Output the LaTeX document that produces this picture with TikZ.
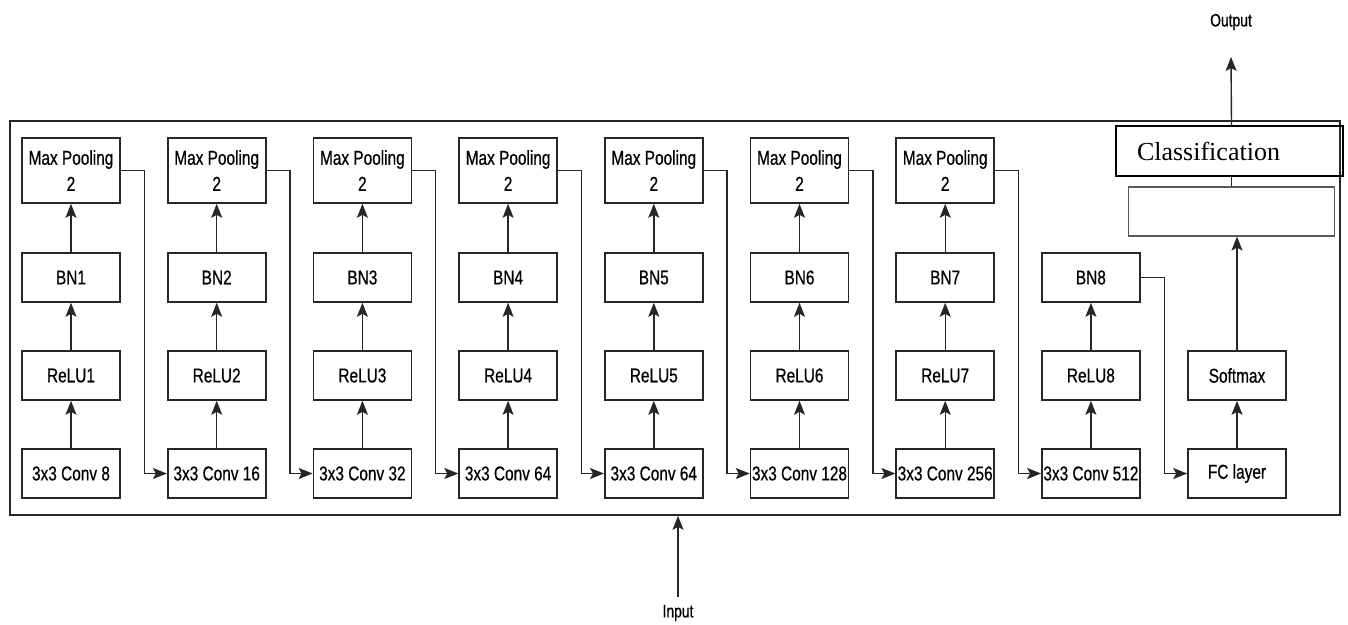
\documentclass[tikz,border=0pt]{standalone}
\usepackage{fontspec}
\setmainfont{Liberation Sans}[FakeStretch=0.77,FakeBold=0.6]
\newfontfamily\clsfont{Liberation Serif}
\usetikzlibrary{arrows.meta}

\begin{document}
\begin{tikzpicture}[x=1pt,y=-1pt,
	blk/.style={draw=black!85,line width=1.6pt,minimum width=98pt,minimum height=49pt,inner sep=0pt,
		align=center,font=\fontsize{20}{26}\selectfont},
	pool/.style={blk,minimum height=65pt},
	arr/.style={-{Stealth[length=14pt,width=11pt,inset=3pt]},draw=black!85,line width=1.4pt},
	lbl/.style={font=\fontsize{18}{22}\selectfont}]
	\useasboundingbox (0,0) rectangle (1348,624);
	\node[draw=black!85,line width=1.6pt,minimum width=1330pt,minimum height=394pt,inner sep=0pt] (net) at (675,318) {};
	
	\foreach \i/\c in {1/8,2/16,3/32,4/64,5/64,6/128,7/256,8/512} {
		\pgfmathsetmacro\xx{71+145.7*(\i-1)}
		\node[blk] (cv\i) at (\xx,473.5) {3x3 Conv \c};
		\node[blk] (re\i) at (\xx,375.5) {ReLU\i};
		\node[blk] (bn\i) at (\xx,277.5) {BN\i};
		\draw[arr] (cv\i) -- (re\i);
		\draw[arr] (re\i) -- (bn\i);
	};
	\foreach \i [evaluate=\i as \j using int(\i+1)] in {1,...,7} {
		\node[pool] (mp\i) at (cv\i |- 0,170.5) {Max Pooling\\2};
		\draw[arr] (bn\i) -- (mp\i);
		\draw[arr] (mp\i.east) -- ++(23.5,0) |- (cv\j.west);
	};
	
	\node[blk] (fc) at (1237,473.5) {FC layer};
	\node[blk] (sm) at (1237,375.5) {Softmax};
	\node[draw=black!65,line width=1.2pt,minimum width=206pt,minimum height=49pt,inner sep=0pt] (dense) at (1231.5,211.5) {};
	\node[draw=black,line width=2.2pt,minimum height=50pt,inner xsep=21pt,inner ysep=0pt,text width=185pt,align=left,
		font=\clsfont\fontsize{26}{30}\selectfont] (cls) at (1229.5,151) {Classification};
	\draw[arr] (bn8.east) -- ++(23.5,0) |- (fc.west);
	\draw[arr] (fc) -- (sm);
	\draw[arr] (sm.north) -- (sm.north |- dense.south);
	\draw[black!85,line width=1.4pt] (dense.north) -- (dense.north |- cls.south);
	
	\node[lbl] (out) at (1231,22) {Output};
	\coordinate (otip) at (1231,57);
	\draw[arr] (dense.north |- cls.north) -- (otip);
	
	\node[lbl] (inp) at (678,613) {Input};
	\coordinate (itail) at (678,597);
	\draw[arr] (itail) -- (itail |- net.south);
\end{tikzpicture}
\end{document}
